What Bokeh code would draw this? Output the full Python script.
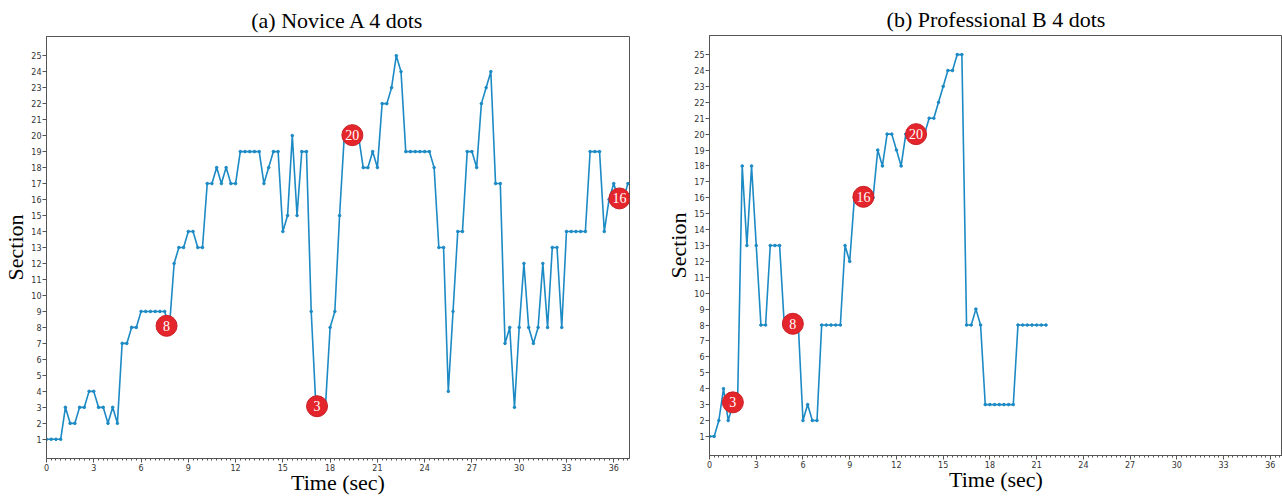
from bokeh.plotting import figure
from bokeh.layouts import row, column
from bokeh.models import Range1d, FixedTicker, SingleIntervalTicker, Title, ColumnDataSource
from bokeh.core.properties import value
from bokeh.embed import file_html
from bokeh.resources import INLINE

# ---------------- data ----------------
time_a = [0.0, 0.3, 0.6, 0.9, 1.2, 1.5, 1.8, 2.1, 2.4, 2.7, 3.0, 3.3, 3.6, 3.9, 4.2, 4.5,
          4.8, 5.1, 5.4, 5.7, 6.0, 6.3, 6.6, 6.9, 7.2, 7.5, 7.8, 8.1, 8.4, 8.7, 9.0, 9.3,
          9.6, 9.9, 10.2, 10.5, 10.8, 11.1, 11.4, 11.7, 12.0, 12.3, 12.6, 12.9, 13.2, 13.5,
          13.8, 14.1, 14.4, 14.7, 15.0, 15.3, 15.6, 15.9, 16.2, 16.5, 16.8, 17.1, 17.4, 17.7,
          18.0, 18.3, 18.6, 18.9, 19.2, 19.5, 19.8, 20.1, 20.4, 20.7, 21.0, 21.3, 21.6, 21.9,
          22.2, 22.5, 22.8, 23.1, 23.4, 23.7, 24.0, 24.3, 24.6, 24.9, 25.2, 25.5, 25.8, 26.1,
          26.4, 26.7, 27.0, 27.3, 27.6, 27.9, 28.2, 28.5, 28.8, 29.1, 29.4, 29.7, 30.0, 30.3,
          30.6, 30.9, 31.2, 31.5, 31.8, 32.1, 32.4, 32.7, 33.0, 33.3, 33.6, 33.9, 34.2, 34.5,
          34.8, 35.1, 35.4, 35.7, 36.0, 36.3, 36.6, 36.9]
section_a = [1, 1, 1, 1, 3, 2, 2, 3, 3, 4, 4, 3, 3, 2, 3, 2,
             7, 7, 8, 8, 9, 9, 9, 9, 9, 9, 8, 12, 13, 13, 14, 14,
             13, 13, 17, 17, 18, 17, 18, 17, 17, 19, 19, 19, 19, 19,
             17, 18, 19, 19, 14, 15, 20, 15, 19, 19, 9, 3, 3, 3,
             8, 9, 15, 20, 20, 20, 20, 18, 18, 19, 18, 22, 22, 23,
             25, 24, 19, 19, 19, 19, 19, 19, 18, 13, 13, 4, 9, 14,
             14, 19, 19, 18, 22, 23, 24, 17, 17, 7, 8, 3, 8, 12,
             8, 7, 8, 12, 8, 13, 13, 8, 14, 14, 14, 14, 14, 19,
             19, 19, 14, 16, 17, 16, 16, 17]
dots_a_time = [7.62, 17.17, 19.41, 36.36]
dots_a_section = [8.1, 3.07, 20.03, 16.07]
dots_a_label = ["8", "3", "20", "16"]

time_b = time_a[:73]
section_b = [1, 1, 2, 4, 2, 3, 3, 18, 13, 18, 13, 8, 8, 13, 13, 13,
             8, 8, 8, 8, 2, 3, 2, 2, 8, 8, 8, 8, 8, 13, 12, 16,
             16, 16, 16, 16, 19, 18, 20, 20, 19, 18, 20, 20, 20, 20,
             20, 21, 21, 22, 23, 24, 24, 25, 25, 8, 8, 9, 8, 3,
             3, 3, 3, 3, 3, 3, 8, 8, 8, 8, 8, 8, 8]
dots_b_time = [1.50, 5.35, 9.88, 13.26]
dots_b_section = [3.14, 8.08, 16.06, 20.0]
dots_b_label = ["3", "8", "16", "20"]

y_ticks = list(range(1, 26))
LINE = "#1c8ac4"
RED = "#e4262c"
SERIF = "Liberation Serif"


def panel(t, s, mt, ms, ml, width, x_end, bl, br, bt, bb, title):
    p = figure(width=width, height=497, x_range=Range1d(0, x_end),
               y_range=Range1d(-0.2, 26.2), output_backend="svg",
               toolbar_location=None,
               min_border_left=bl, min_border_right=br,
               min_border_top=bt, min_border_bottom=bb)
    p.title = Title(text=title, text_font=SERIF, text_font_size="22px",
                    text_font_style="normal", text_color="#000000",
                    align="center", standoff=8)
    p.grid.visible = False
    p.outline_line_color = "#555555"
    p.outline_line_width = 1
    p.background_fill_color = "white"
    p.border_fill_color = "white"

    p.xaxis.ticker = SingleIntervalTicker(interval=3, num_minor_ticks=10)
    p.yaxis.ticker = FixedTicker(ticks=y_ticks, minor_ticks=[])
    for ax in (p.xaxis[0], p.yaxis[0]):
        ax.axis_line_color = "#555555"
        ax.major_tick_line_color = "#555555"
        ax.minor_tick_line_color = "#555555"
        ax.major_tick_in = 0
        ax.major_tick_out = 4
        ax.minor_tick_in = 0
        ax.minor_tick_out = 2
        ax.major_label_text_font = "DejaVu Sans"
        ax.major_label_text_font_size = "8px"
        ax.major_label_text_color = "#333333"
        ax.major_label_standoff = 1
        ax.axis_label_text_font = SERIF
        ax.axis_label_text_font_size = "22px"
        ax.axis_label_text_font_style = "normal"
        ax.axis_label_text_color = "#000000"
    p.xaxis.axis_label = "Time (sec)"
    p.yaxis.axis_label = "Section"
    p.xaxis.axis_label_standoff = -4
    p.yaxis.axis_label_standoff = 0

    src = ColumnDataSource(dict(t=t, s=s))
    p.line("t", "s", source=src, line_color=LINE, line_width=1.6)
    p.scatter("t", "s", source=src, size=2.6, fill_color=LINE, line_color=LINE)

    msrc = ColumnDataSource(dict(t=mt, s=ms, lbl=ml))
    p.scatter("t", "s", source=msrc, size=21, fill_color=RED,
              line_color="#c81e24", line_width=1)
    p.text("t", "s", text="lbl", source=msrc, text_color="white",
           text_font=value(SERIF), text_font_size="14px",
           text_align="center", text_baseline="middle")
    return p


p1 = panel(time_a, section_a, dots_a_time, dots_a_section, dots_a_label,
           640, 37.0, 46, 11, 36, 39, "(a) Novice A 4 dots")
p2 = panel(time_b, section_b, dots_b_time, dots_b_section, dots_b_label,
           642, 36.78, 69, 0, 33, 42, "(b) Professional B 4 dots")

layout = row(column(p1), column(p2))
open("out.html", "w").write(file_html(layout, INLINE))
